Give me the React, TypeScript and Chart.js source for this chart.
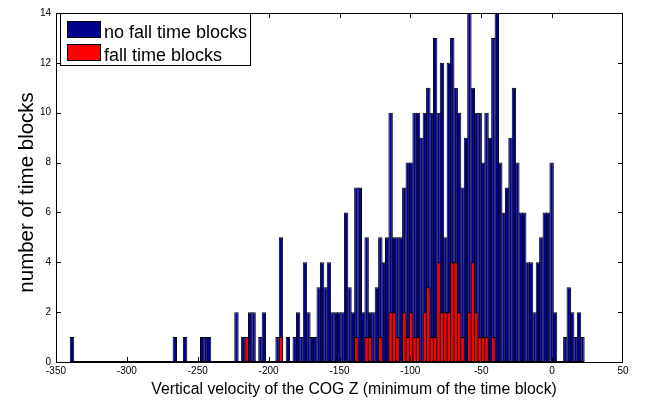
import React, { useEffect, useRef } from "react";
import { Chart, registerables } from "chart.js";

Chart.register(...registerables);

// Histogram range (150 equal bins between the data minimum and maximum)
const HIST_MIN = -339.9;
const HIST_MAX = 22.6;

// Height of each bin (total blocks)
const NO_FALL_COUNTS = [
  1, 0, 0, 0, 0, 0, 0, 0, 0, 0,
  0, 0, 0, 0, 0, 0, 0, 0, 0, 0,
  0, 0, 0, 0, 0, 0, 0, 0, 0, 0,
  1, 0, 0, 1, 0, 0, 0, 0, 1, 1,
  1, 0, 0, 0, 0, 0, 0, 0, 2, 0,
  1, 1, 2, 2, 0, 1, 2, 0, 0, 0,
  1, 5, 0, 1, 0, 1, 2, 1, 4, 2,
  1, 1, 3, 4, 3, 4, 2, 2, 2, 2,
  6, 3, 2, 7, 7, 2, 5, 2, 2, 3,
  5, 4, 5, 10, 5, 5, 5, 7, 8, 8,
  10, 10, 9, 10, 11, 10, 13, 10, 12, 5,
  12, 13, 11, 10, 7, 9, 14, 11, 10, 10,
  8, 10, 9, 13, 14, 8, 6, 7, 9, 11,
  8, 6, 6, 4, 4, 2, 4, 5, 6, 6,
  8, 2, 0, 0, 1, 3, 2, 1, 2, 1,
];

// Fall time blocks per bin
const FALL_COUNTS = [
  0, 0, 0, 0, 0, 0, 0, 0, 0, 0,
  0, 0, 0, 0, 0, 0, 0, 0, 0, 0,
  0, 0, 0, 0, 0, 0, 0, 0, 0, 0,
  0, 0, 0, 0, 0, 0, 0, 0, 0, 0,
  0, 0, 0, 0, 0, 0, 0, 0, 0, 0,
  0, 1, 0, 0, 0, 0, 0, 0, 0, 0,
  0, 1, 0, 0, 0, 0, 0, 0, 0, 0,
  0, 0, 0, 0, 0, 0, 0, 0, 0, 0,
  0, 0, 0, 1, 0, 0, 1, 1, 0, 0,
  1, 0, 0, 2, 2, 1, 0, 2, 1, 2,
  1, 1, 0, 2, 3, 1, 1, 4, 2, 2,
  2, 4, 4, 2, 1, 0, 2, 4, 2, 1,
  1, 1, 0, 1, 0, 0, 0, 0, 0, 0,
  0, 0, 0, 0, 0, 0, 0, 0, 0, 0,
  0, 0, 0, 0, 0, 0, 0, 0, 0, 0,
];

const SERIES_LABELS = ["no fall time blocks", "fall time blocks"];
const SERIES_COLORS = ["#00008F", "#FF0000"];
const X_TITLE = "Vertical velocity of the COG Z (minimum of the time block)";
const Y_TITLE = "number of time blocks";
const X_MIN = -350;
const X_MAX = 50;
const X_STEP = 50;
const Y_MIN = 0;
const Y_MAX = 14;
const Y_STEP = 2;

const BIN_WIDTH = (HIST_MAX - HIST_MIN) / NO_FALL_COUNTS.length;
const BIN_CENTERS = NO_FALL_COUNTS.map((_, i) => HIST_MIN + (i + 0.5) * BIN_WIDTH);

const FONT = "'Liberation Sans', Arial, Helvetica, sans-serif";

const matlabFrame = {
  id: "matlabFrame",
  afterDatasetsDraw(chart: any) {
    const { ctx, chartArea: a, scales } = chart;
    const x = scales.x;
    const y = scales.y;
    const L = Math.round(a.left);
    const R = Math.round(a.right);
    const T = Math.round(a.top);
    const B = Math.round(a.bottom);
    ctx.save();
    // baseline made by the zero-height bins
    const hx0 = x.getPixelForValue(HIST_MIN);
    const hx1 = x.getPixelForValue(HIST_MAX);
    ctx.fillStyle = "#000";
    ctx.fillRect(hx0, B - 1, hx1 - hx0, 1);
    // box
    ctx.strokeStyle = "#000";
    ctx.lineWidth = 1;
    ctx.strokeRect(L + 0.5, T + 0.5, R - L - 1, B - T);
    // inward ticks
    const tl = 5;
    ctx.beginPath();
    x.ticks.forEach((t: any) => {
      const px = Math.round(x.getPixelForValue(t.value)) + 0.5;
      if (px < L + 2 || px > R - 2) return;
      ctx.moveTo(px, B);
      ctx.lineTo(px, B - tl);
      ctx.moveTo(px, T);
      ctx.lineTo(px, T + tl);
    });
    y.ticks.forEach((t: any) => {
      const py = Math.round(y.getPixelForValue(t.value)) + 0.5;
      if (py < T + 2 || py > B - 1) return;
      ctx.moveTo(L, py);
      ctx.lineTo(L + tl, py);
      ctx.moveTo(R, py);
      ctx.lineTo(R - tl, py);
    });
    ctx.stroke();

    // axis titles
    ctx.fillStyle = "#000";
    ctx.textAlign = "center";
    ctx.textBaseline = "alphabetic";
    ctx.font = `15.8px ${FONT}`;
    ctx.fillText(X_TITLE, 354, 394);
    ctx.save();
    ctx.translate(33.3, 192.4);
    ctx.rotate(-Math.PI / 2);
    ctx.font = `20.5px ${FONT}`;
    ctx.fillText(Y_TITLE, 0, 0);
    ctx.restore();

    // legend
    const lx = 60, ly = 13, lw = 190, lh = 52;
    ctx.fillStyle = "#fff";
    ctx.fillRect(lx, ly, lw, lh);
    ctx.strokeStyle = "#000";
    ctx.strokeRect(lx + 0.5, ly + 0.5, lw, lh);
    const ds = chart.data.datasets;
    ctx.font = `18px ${FONT}`;
    ctx.textBaseline = "alphabetic";
    ctx.textAlign = "left";
    ds.forEach((d: any, i: number) => {
      const sy = 21 + i * 23;
      ctx.fillStyle = d.backgroundColor;
      ctx.fillRect(67, sy, 34, 17);
      ctx.strokeStyle = "#000";
      ctx.strokeRect(67.5, sy + 0.5, 33, 16);
      ctx.fillStyle = "#000";
      ctx.fillText(d.label, 104, sy + 16.5);
    });
    ctx.restore();
  },
};

export default function App() {
  const ref = useRef<HTMLCanvasElement | null>(null);
  useEffect(() => {
    if (!ref.current) return;
    Chart.defaults.font.family = FONT;
    Chart.defaults.color = "#000";
    const common = {
      borderColor: "#000",
      borderWidth: 1,
      barPercentage: 1.29,
      categoryPercentage: 1,
      grouped: false,
    };
    const chart = new Chart(ref.current, {
      type: "bar",
      data: {
        datasets: [
          {
            ...common,
            label: SERIES_LABELS[0],
            data: BIN_CENTERS.map((c, i) => ({ x: c, y: NO_FALL_COUNTS[i] })),
            backgroundColor: SERIES_COLORS[0],
            order: 1,
          },
          {
            ...common,
            label: SERIES_LABELS[1],
            data: BIN_CENTERS.map((c, i) => ({ x: c, y: FALL_COUNTS[i] })),
            backgroundColor: SERIES_COLORS[1],
            order: 0,
          },
        ],
      },
      options: {
        responsive: false,
        animation: false,
        layout: { padding: { top: 13, right: 28, left: 0, bottom: 0 } },
        plugins: { legend: { display: false }, tooltip: { enabled: false } },
        scales: {
          x: {
            type: "linear",
            min: X_MIN,
            max: X_MAX,
            offset: false,
            grid: { display: false, drawTicks: false },
            border: { display: false },
            ticks: { stepSize: X_STEP, font: { size: 10 }, padding: 3, maxRotation: 0, autoSkip: false },
            title: { display: false },
            afterFit: (s: any) => {
              s.height = 41;
            },
          },
          y: {
            min: Y_MIN,
            max: Y_MAX,
            grid: { display: false, drawTicks: false },
            border: { display: false },
            ticks: { stepSize: Y_STEP, font: { size: 10 }, padding: 5 },
            title: { display: false },
            afterFit: (s: any) => {
              s.width = 56;
            },
          },
        },
      } as any,
      plugins: [matlabFrame],
    });
    return () => chart.destroy();
  }, []);
  return (
    <div style={{ position: "fixed", left: 0, top: 0, width: 651, height: 403, background: "#fff" }}>
      <canvas ref={ref} width={651} height={403} style={{ width: 651, height: 403, display: "block" }} />
    </div>
  );
}
